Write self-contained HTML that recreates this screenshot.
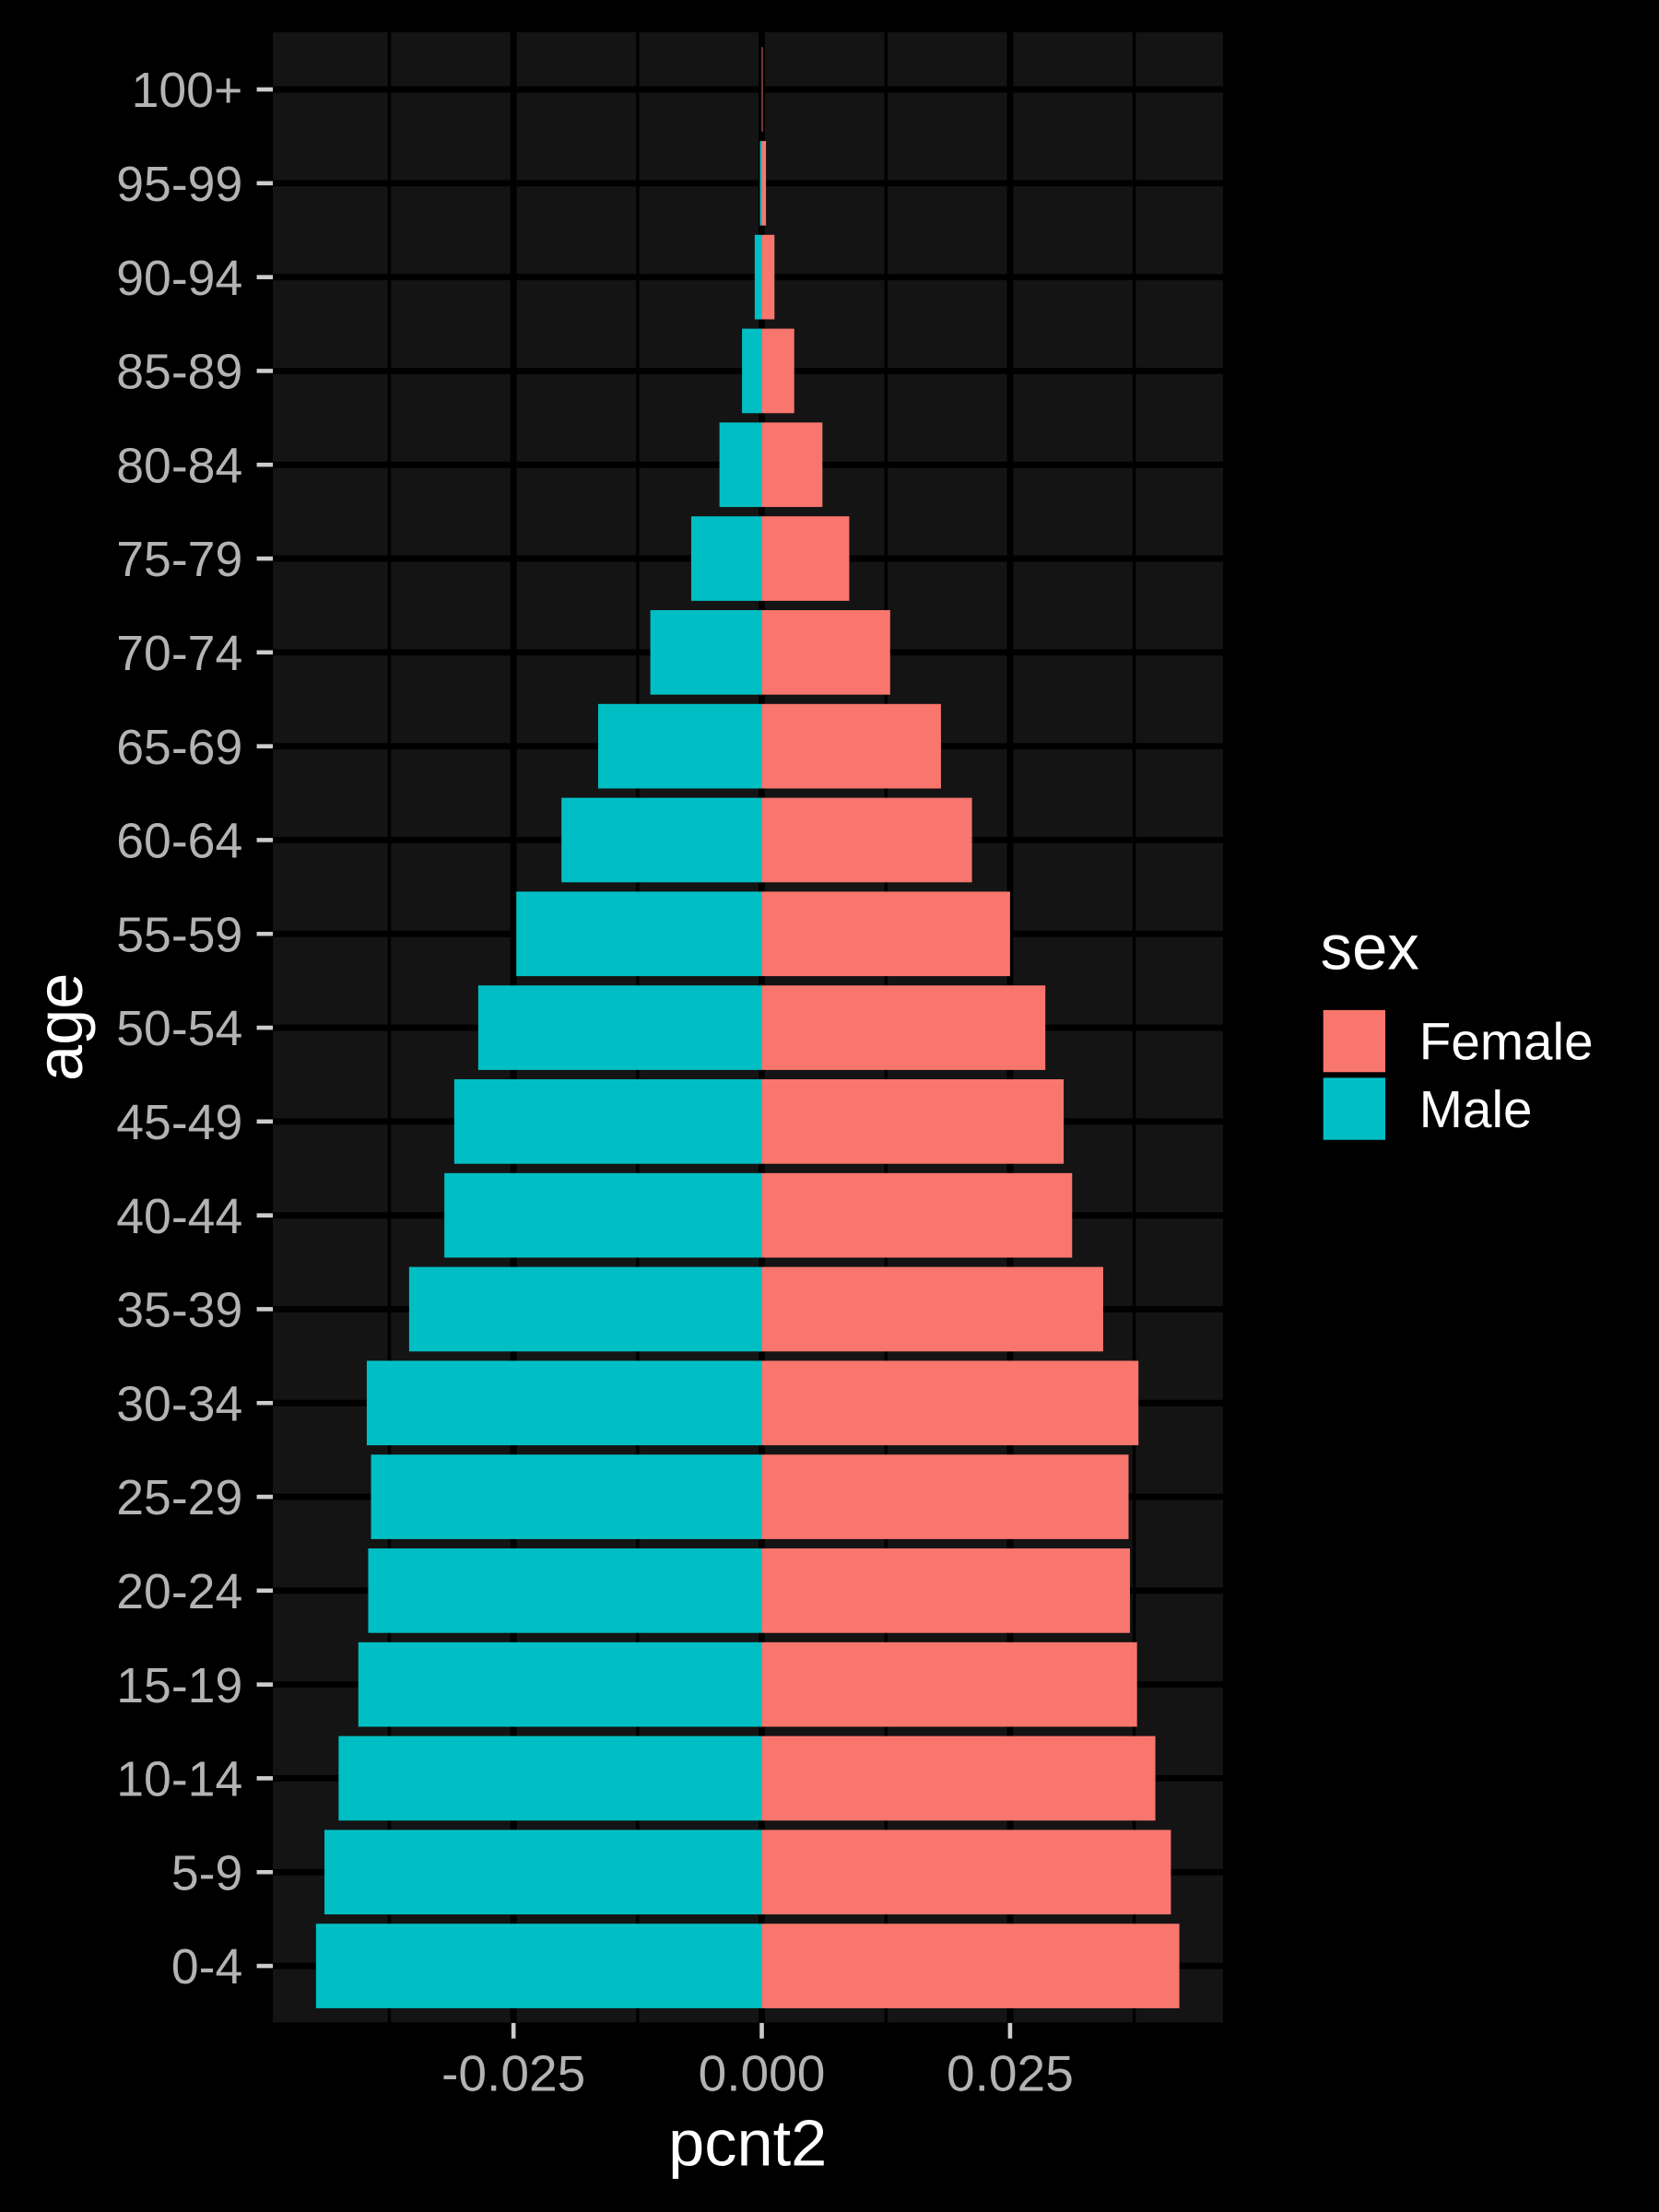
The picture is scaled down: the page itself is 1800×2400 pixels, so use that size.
<!DOCTYPE html>
<html><head><meta charset="utf-8"><style>
html,body{margin:0;padding:0;background:#000;}
svg{display:block;}
text{font-family:"Liberation Sans",sans-serif;}
</style></head><body>
<svg width="1800" height="2400" viewBox="0 0 1176 1568" xmlns="http://www.w3.org/2000/svg">
<rect width="1176" height="1568" fill="#000"/>
<rect x="193.4" y="22.9" width="673.6" height="1410.8" fill="#141414"/>
<g stroke="#000">
<g stroke-width="2.3">
<line x1="276" y1="22.9" x2="276" y2="1433.7"/><line x1="452" y1="22.9" x2="452" y2="1433.7"/>
<line x1="628" y1="22.9" x2="628" y2="1433.7"/><line x1="804" y1="22.9" x2="804" y2="1433.7"/>
</g>
<g stroke-width="4.5">
<line x1="364" y1="22.9" x2="364" y2="1433.7"/><line x1="540" y1="22.9" x2="540" y2="1433.7"/><line x1="716" y1="22.9" x2="716" y2="1433.7"/>
</g>
<g stroke-width="4.5" id="hg"></g>
</g>
<g id="bars"></g>
<g id="labs" fill="#b3b3b3" font-size="35" text-anchor="end"></g>
<g stroke="#ccc" stroke-width="3">
<line x1="364" y1="1434" x2="364" y2="1445"/><line x1="540" y1="1434" x2="540" y2="1445"/><line x1="716" y1="1434" x2="716" y2="1445"/>
</g>
<g fill="#b3b3b3" font-size="36" text-anchor="middle">
<text x="364" y="1482">-0.025</text><text x="540" y="1482">0.000</text><text x="716" y="1482">0.025</text>
</g>
<text x="530" y="1535" fill="#fff" font-size="46" text-anchor="middle">pcnt2</text>
<text transform="translate(58,728) rotate(-90)" fill="#fff" font-size="46" text-anchor="middle">age</text>
<text x="936" y="687" fill="#fff" font-size="45">sex</text>
<rect x="938" y="716" width="44" height="44" fill="#F8766D"/>
<rect x="938" y="764" width="44" height="44" fill="#00BFC4"/>
<text x="1006" y="751" fill="#fff" font-size="37">Female</text>
<text x="1006" y="799" fill="#fff" font-size="37">Male</text>
<script>
var ages=["100+","95-99","90-94","85-89","80-84","75-79","70-74","65-69","60-64","55-59","50-54","45-49","40-44","35-39","30-34","25-29","20-24","15-19","10-14","5-9","0-4"];
var m=[540,538.7,535,526,510,490,461,424,398,366,339,322,315,290,260,263,261,254,240,230,224];
var f=[540.6,543,549,563,583,602,631,667,689,716,741,754,760,782,807,800,801,806,819,830,836];
var ns="http://www.w3.org/2000/svg",hg=document.getElementById("hg"),b=document.getElementById("bars"),l=document.getElementById("labs"),svg=document.querySelector("svg");
for(var i=0;i<21;i++){var y=63.4+i*66.51;
var ln=document.createElementNS(ns,"line");ln.setAttribute("x1",193.4);ln.setAttribute("x2",867);ln.setAttribute("y1",y);ln.setAttribute("y2",y);hg.appendChild(ln);
var r=document.createElementNS(ns,"rect");r.setAttribute("x",m[i]);r.setAttribute("y",y-29.95);r.setAttribute("width",540-m[i]);r.setAttribute("height",59.9);r.setAttribute("fill","#00BFC4");b.appendChild(r);
r=document.createElementNS(ns,"rect");r.setAttribute("x",540);r.setAttribute("y",y-29.95);r.setAttribute("width",f[i]-540);r.setAttribute("height",59.9);r.setAttribute("fill","#F8766D");b.appendChild(r);
var t=document.createElementNS(ns,"text");t.setAttribute("x",172);t.setAttribute("y",y+12.5);t.textContent=ages[i];l.appendChild(t);
var tk=document.createElementNS(ns,"line");tk.setAttribute("x1",182);tk.setAttribute("x2",193.4);tk.setAttribute("y1",y);tk.setAttribute("y2",y);tk.setAttribute("stroke","#ccc");tk.setAttribute("stroke-width",3);svg.appendChild(tk);}
</script>
</svg>
</body></html>
